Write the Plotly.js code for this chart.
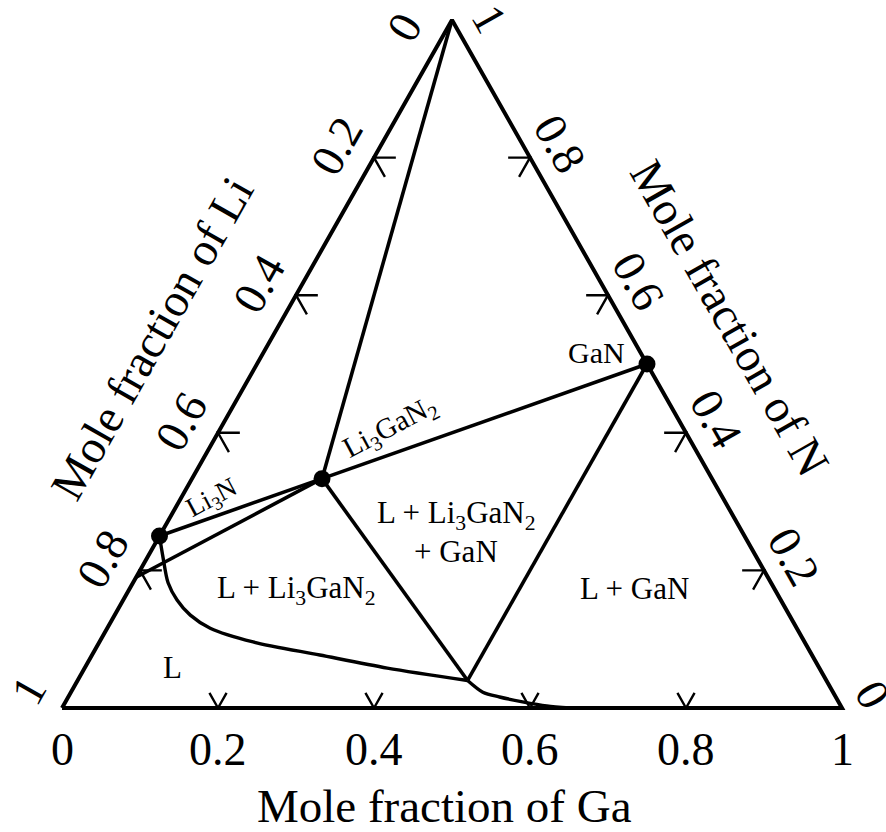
<!DOCTYPE html>
<html>
<head>
<meta charset="utf-8">
<script src="https://cdn.plot.ly/plotly-3.0.1.min.js"></script>
<style>
  html, body { margin: 0; padding: 0; background: #ffffff; }
  #plot { width: 886px; height: 832px; }
</style>
</head>
<body>
<div id="plot"></div>
<script>
// Li–Ga–N isothermal section. Every composition is a mole-fraction triple (Li, Ga, N).

// Stoichiometric phases (filled dots)
const phaseNames = ['Li3N', 'Li3GaN2', 'GaN'];
const phaseLi = [0.75, 0.5, 0.0];
const phaseGa = [0.0, 1 / 6, 0.5];
const phaseN  = [0.25, 1 / 3, 0.5];

// Phase-boundary / tie lines: start and end compositions
const tieFromLi = [0.75, 0.5, 0.5, 0.5, 0.5, 0.0];
const tieFromGa = [0.0, 1 / 6, 1 / 6, 1 / 6, 1 / 6, 0.5];
const tieFromN  = [0.25, 1 / 3, 1 / 3, 1 / 3, 1 / 3, 0.5];
const tieToLi   = [0.5, 0.0, 0.0, 0.81, 0.46, 0.46];
const tieToGa   = [1 / 6, 0.5, 0.0, 0.0, 0.50, 0.50];
const tieToN    = [1 / 3, 0.5, 1.0, 0.19, 0.04, 0.04];

// Liquidus, from Li3N down to the three-phase liquid corner
const liqUpperLi = [0.75, 0.761, 0.773, 0.774, 0.768, 0.752, 0.707, 0.631, 0.554, 0.46];
const liqUpperGa = [0.0, 0.020, 0.045, 0.069, 0.097, 0.132, 0.197, 0.292, 0.388, 0.50];
const liqUpperN  = [0.25, 0.219, 0.182, 0.157, 0.135, 0.116, 0.096, 0.077, 0.058, 0.04];

// Liquidus, from the liquid corner down to the Li–Ga binary edge
const liqLowerLi = [0.46, 0.449, 0.431, 0.405, 0.377, 0.349];
const liqLowerGa = [0.50, 0.528, 0.553, 0.586, 0.620, 0.651];
const liqLowerN  = [0.04, 0.023, 0.016, 0.009, 0.003, 0.0];

// Axis ticks
const tickValues = [0, 0.2, 0.4, 0.6, 0.8, 1];
const tickLabels = ['0', '0.2', '0.4', '0.6', '0.8', '1'];

// ---------------------------------------------------------------------------
// Page geometry: the Li corner sits at (62,708), Ga at (842,708), N at (452,20)
const W = 886, H = 832;
const LEFT = 62, RIGHT = 842, BOTTOM = 708, TOP = 20;
const sx = RIGHT - LEFT, sy = BOTTOM - TOP;
const xRange = [-LEFT / sx, (W - LEFT) / sx];
const yRange = [1 + TOP / sy - H / sy, 1 + TOP / sy];

const FONT = 'Liberation Serif, Times New Roman, serif';

// ternary composition -> cartesian plotting coordinates
function tx(li, ga, n) { const s = li + ga + n; return (ga + n / 2) / s; }
function ty(li, ga, n) { const s = li + ga + n; return n / s; }
function polyline(li, ga, n) {
  return { x: li.map((v, i) => tx(v, ga[i], n[i])), y: li.map((v, i) => ty(v, ga[i], n[i])) };
}
const px = v => v / W;          // page pixel -> paper fraction
const py = v => 1 - v / H;

const traces = [];

// triangle frame
const frame = polyline([1, 0, 0, 1], [0, 1, 0, 0], [0, 0, 1, 0]);
traces.push({ type: 'scatter', mode: 'lines', x: frame.x, y: frame.y,
  line: { color: '#000', width: 4 }, hoverinfo: 'skip' });

// tick marks: two short strokes along the grid directions at each tick
const armEdge = 0.028, armBase = 0.022;
const tkx = [], tky = [];
function addTick(p, a1, a2) {
  tkx.push(tx(...a1), tx(...p), tx(...a2), null);
  tky.push(ty(...a1), ty(...p), ty(...a2), null);
}
tickValues.filter(t => t > 0 && t < 1).forEach(t => {
  // Li axis (left edge, Ga = 0)
  let d = armEdge;
  addTick([t, 0, 1 - t], [t - d, d, 1 - t], [t, d, 1 - t - d]);
  // N axis (right edge, Li = 0)
  addTick([0, 1 - t, t], [d, 1 - t - d, t], [d, 1 - t, t - d]);
  // Ga axis (bottom edge, N = 0)
  d = armBase;
  addTick([1 - t, t, 0], [1 - t - d, t, d], [1 - t, t - d, d]);
});
traces.push({ type: 'scatter', mode: 'lines', x: tkx, y: tky,
  line: { color: '#000', width: 2.4 }, hoverinfo: 'skip' });

// tie lines
const tlx = [], tly = [];
tieFromLi.forEach((v, i) => {
  tlx.push(tx(v, tieFromGa[i], tieFromN[i]), tx(tieToLi[i], tieToGa[i], tieToN[i]), null);
  tly.push(ty(v, tieFromGa[i], tieFromN[i]), ty(tieToLi[i], tieToGa[i], tieToN[i]), null);
});
traces.push({ type: 'scatter', mode: 'lines', x: tlx, y: tly,
  line: { color: '#000', width: 3.6 }, hoverinfo: 'skip' });

// liquidus curve
[[liqUpperLi, liqUpperGa, liqUpperN], [liqLowerLi, liqLowerGa, liqLowerN]].forEach(([a, b, c]) => {
  const p = polyline(a, b, c);
  traces.push({ type: 'scatter', mode: 'lines', x: p.x, y: p.y,
    line: { color: '#000', width: 3.4, shape: 'spline', smoothing: 0.8 }, hoverinfo: 'skip' });
});

// compound dots
const ph = polyline(phaseLi, phaseGa, phaseN);
traces.push({ type: 'scatter', mode: 'markers', x: ph.x, y: ph.y, text: phaseNames,
  marker: { color: '#000', size: 17 }, hoverinfo: 'skip' });

// ---------------------------------------------------------------------------
// Text
const annotations = [];
function label(text, x, y, size, opt) {
  annotations.push(Object.assign({ text, x, y, showarrow: false, xanchor: 'center', yanchor: 'middle',
    font: { family: FONT, size, color: '#000' } }, opt || {}));
}
const EDGE_ANGLE = Math.atan2(sy, sx / 2) * 180 / Math.PI;   // ~60.5 deg
const ea = EDGE_ANGLE * Math.PI / 180;
const eL = [Math.cos(ea), -Math.sin(ea)], nL = [-Math.sin(ea), -Math.cos(ea)];   // left edge (screen)
const eR = [Math.cos(ea),  Math.sin(ea)], nR = [ Math.sin(ea), -Math.cos(ea)];   // right edge (screen)

tickValues.forEach((t, i) => {
  // Li (left edge)
  let out = 38, along = (t === 0) ? -30 : (t === 1 ? -1 : -8);
  let dx = nL[0] * out + eL[0] * along, dy = nL[1] * out + eL[1] * along;
  label(tickLabels[i], tx(t, 0, 1 - t), ty(t, 0, 1 - t), 46,
    { xref: 'x', yref: 'y', xshift: dx, yshift: -dy, textangle: -EDGE_ANGLE });
  // N (right edge)
  out = 33; along = (t === 1) ? 17 : 3.5;
  dx = nR[0] * out + eR[0] * along; dy = nR[1] * out + eR[1] * along;
  label(tickLabels[i], tx(0, 1 - t, t), ty(0, 1 - t, t), 46,
    { xref: 'x', yref: 'y', xshift: dx, yshift: -dy, textangle: EDGE_ANGLE });
  // Ga (bottom edge)
  label(tickLabels[i], tx(1 - t, t, 0), ty(1 - t, t, 0), 46,
    { xref: 'x', yref: 'y', yshift: -41 });
});

// axis titles
label('Mole fraction of Ga', px(444), py(806), 47, { xref: 'paper', yref: 'paper' });
label('Mole fraction of Li', px(152), py(338), 47, { xref: 'paper', yref: 'paper', textangle: -EDGE_ANGLE });
label('Mole fraction of N', px(730), py(318), 47, { xref: 'paper', yref: 'paper', textangle: EDGE_ANGLE });

// phase and field names
label('Li<sub>3</sub>N', px(212), py(499), 27, { xref: 'paper', yref: 'paper', textangle: -28 });
label('Li<sub>3</sub>GaN<sub>2</sub>', px(390), py(428), 29, { xref: 'paper', yref: 'paper', textangle: -28 });
label('GaN', px(596), py(352), 30, { xref: 'paper', yref: 'paper' });
label('L', px(172), py(667), 31, { xref: 'paper', yref: 'paper' });
label('L + Li<sub>3</sub>GaN<sub>2</sub>', px(296), py(590), 31, { xref: 'paper', yref: 'paper' });
label('L + Li<sub>3</sub>GaN<sub>2</sub>', px(456), py(515), 31, { xref: 'paper', yref: 'paper' });
label('+ GaN', px(456), py(551), 31, { xref: 'paper', yref: 'paper' });
label('L + GaN', px(634), py(588), 31, { xref: 'paper', yref: 'paper' });

const layout = {
  width: W, height: H,
  margin: { l: 0, r: 0, t: 0, b: 0, pad: 0 },
  paper_bgcolor: '#ffffff', plot_bgcolor: '#ffffff',
  showlegend: false, hovermode: false,
  xaxis: { range: xRange, visible: false, fixedrange: true },
  yaxis: { range: yRange, visible: false, fixedrange: true },
  annotations
};

Plotly.newPlot('plot', traces, layout, { displayModeBar: false, staticPlot: true });
</script>
</body>
</html>
